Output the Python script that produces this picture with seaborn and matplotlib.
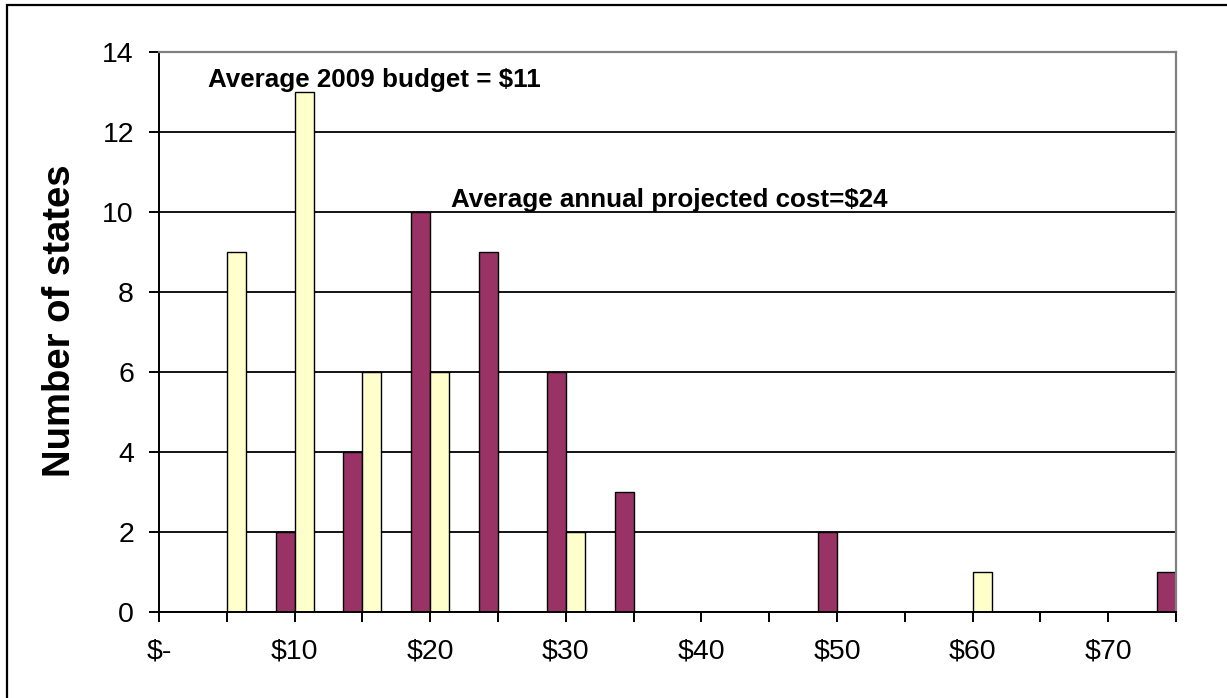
import matplotlib
matplotlib.use("Agg")
import matplotlib.pyplot as plt
import seaborn as sns
import pandas as pd
from matplotlib.patches import Rectangle

# ---- data ----
cost_bins = [0, 5, 10, 15, 20, 25, 30, 35, 40, 45, 50, 55, 60, 65, 70, 75]
projected_cost = [0, 0, 2, 4, 10, 9, 6, 3, 0, 0, 2, 0, 0, 0, 0, 1]
budget_2009 = [0, 9, 13, 6, 6, 0, 2, 0, 0, 0, 0, 0, 1, 0, 0, 0]
tick_labels = ["$-", "", "$10", "", "$20", "", "$30", "", "$40", "", "$50", "", "$60", "", "$70", ""]
series_names = ["Average annual projected cost", "Average 2009 budget"]
annotations = ["Average 2009 budget = $11", "Average annual projected cost=$24"]

df = pd.DataFrame({
    "bin": cost_bins + cost_bins,
    "count": projected_cost + budget_2009,
    "series": [series_names[0]] * len(cost_bins) + [series_names[1]] * len(cost_bins),
})

sns.set_theme(style="white")
plt.rcParams['font.family'] = ['Liberation Sans', 'DejaVu Sans']

W, H = 1227, 698
fig = plt.figure(figsize=(W / 100, H / 100), dpi=100)
ax = fig.add_axes([159 / W, (H - 612) / H, (1176 - 159) / W, (612 - 52) / H])

sns.barplot(data=df, x="bin", y="count", hue="series", order=cost_bins,
            hue_order=series_names,
            palette={series_names[0]: "#993366", series_names[1]: "#FFFFCC"},
            saturation=1, width=0.56, edgecolor="black", linewidth=1.0,
            legend=False, ax=ax)

ax.set_xlim(0, len(cost_bins) - 1)
ax.set_ylim(0, 14)
ax.set_yticks(range(0, 15, 2))
ax.set_xticks(range(len(cost_bins)))
ax.set_xticklabels(tick_labels)
ax.set_xlabel("")

ax.yaxis.grid(True, color="black", linewidth=1.3)
ax.xaxis.grid(False)
ax.set_axisbelow(True)

for side in ["left", "bottom"]:
    ax.spines[side].set_color("black")
    ax.spines[side].set_linewidth(1.4)
for side in ["top", "right"]:
    ax.spines[side].set_visible(True)
    ax.spines[side].set_color("#808080")
    ax.spines[side].set_linewidth(1.6)

ax.tick_params(axis="both", which="major", bottom=True, left=True, length=7,
               width=1.4, color="black", direction="out", labelsize=20.5,
               labelcolor="black")
ax.tick_params(axis="y", pad=11)
ax.tick_params(axis="x", pad=12)

ax.set_ylabel("Number of states", fontsize=27.5, fontweight="bold", color="black")
ax.yaxis.set_label_coords(-0.08, 0.521)

ax.text(0.72, 13.13, annotations[0], fontsize=18.7, fontweight="bold",
        ha="left", va="baseline", color="black")
ax.text(4.31, 10.13, annotations[1], fontsize=18.7, fontweight="bold",
        ha="left", va="baseline", color="black")

# outer chart border (left and top visible)
fig.add_artist(Rectangle((7 / W, -0.1), 1.2, 1.1 - 5 / H, transform=fig.transFigure,
                         fill=False, edgecolor="black", linewidth=1.6, clip_on=False))

fig.savefig("out.png", dpi=100, facecolor="white")
